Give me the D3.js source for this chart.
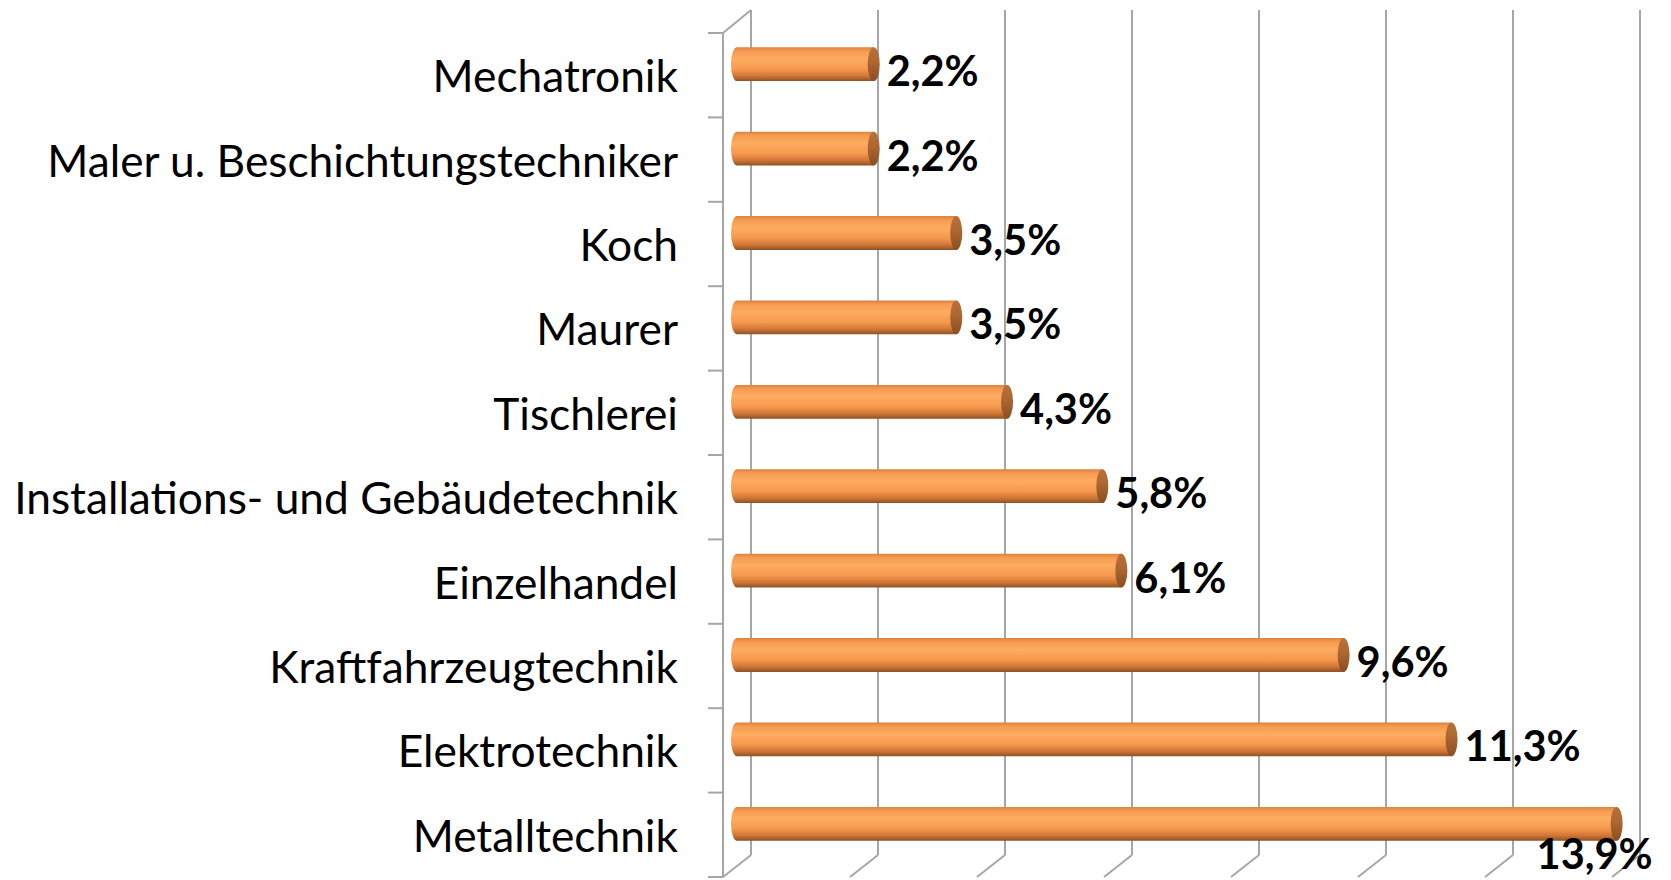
<!DOCTYPE html>
<html><head><meta charset="utf-8">
<script src="https://cdn.jsdelivr.net/npm/d3@7"></script>
<style>html,body{margin:0;padding:0;background:#fff;}svg{display:block;}</style>
</head><body>
<svg id="chart" width="1671" height="880"></svg>
<script>
const categories = ["Mechatronik","Maler u. Beschichtungstechniker","Koch","Maurer","Tischlerei","Installations- und Gebäudetechnik","Einzelhandel","Kraftfahrzeugtechnik","Elektrotechnik","Metalltechnik"];
const values = [2.2,2.2,3.5,3.5,4.3,5.8,6.1,9.6,11.3,13.9];
const valueLabels = ["2,2%","2,2%","3,5%","3,5%","4,3%","5,8%","6,1%","9,6%","11,3%","13,9%"];
const xTicks = [0,2,4,6,8,10,12,14];

(function(){
const W = 1671, H = 880;
const svg = d3.select("#chart");
const dx = 14, dy = 11; // half depth offset
const x = d3.scaleLinear().domain([0,14]).range([737,1626]);   // mid-depth
const yFront = d3.scaleBand().domain(categories).range([33,877]).padding(0);
const yBar = d3.scaleBand().domain(categories).range([33-dy,877-dy]).paddingInner(0.6).paddingOuter(0.3);

const defs = svg.append("defs");
const g1 = defs.append("linearGradient").attr("id","barGrad").attr("x1",0).attr("y1",0).attr("x2",0).attr("y2",1);
[[0,"#DC8240"],[0.12,"#F69C52"],[0.35,"#FDAC60"],[0.65,"#F5984D"],[0.85,"#CF7636"],[1,"#8F5124"]]
  .forEach(([o,c])=>g1.append("stop").attr("offset",o).attr("stop-color",c));
const g2 = defs.append("linearGradient").attr("id","capGrad").attr("x1",0).attr("y1",0).attr("x2",0).attr("y2",1);
[[0,"#B8703A"],[0.4,"#AE6832"],[1,"#8A4E22"]]
  .forEach(([o,c])=>g2.append("stop").attr("offset",o).attr("stop-color",c));

const grid = svg.append("g").attr("stroke","#A6A6A6").attr("stroke-width",2).attr("fill","none");
const yTop = 10, yBottom = 855;
xTicks.forEach(t=>{
  const xb = x(t)+dx;
  grid.append("line").attr("x1",xb).attr("x2",xb).attr("y1",yTop).attr("y2",yBottom);
  grid.append("line").attr("x1",xb).attr("y1",yBottom).attr("x2",xb-2*dx).attr("y2",yBottom+2*dy);
});
const xf = x(0)-dx;
grid.append("line").attr("x1",xf).attr("x2",xf).attr("y1",33).attr("y2",877);
grid.append("line").attr("x1",xf).attr("y1",33).attr("x2",x(0)+dx).attr("y2",yTop);
const bounds = categories.map(c=>yFront(c)).concat([877]);
bounds.forEach(b=>grid.append("line").attr("x1",xf-15).attr("x2",xf).attr("y1",b).attr("y2",b));

const bars = svg.append("g");
const bh = yBar.bandwidth();
categories.forEach((c,i)=>{
  const y0 = yBar(c), cy = y0+bh/2, x0 = x(0), x1 = x(values[i]);
  const rx = 6;
  bars.append("path")
    .attr("d",`M${x1-3},${y0} L${x0},${y0} A${rx},${bh/2} 0 0 0 ${x0},${y0+bh} L${x1-3},${y0+bh} Z`)
    .attr("fill","url(#barGrad)");
  bars.append("ellipse").attr("cx",x1-3).attr("cy",cy).attr("rx",rx).attr("ry",bh/2)
    .attr("fill","url(#capGrad)");
});

const lab = svg.append("g").attr("font-family","Lato, 'Open Sans', sans-serif").attr("fill","#000");
const probe = lab.append("text").attr("font-size",40).text(categories[5]);
const w40 = probe.node().getComputedTextLength(); probe.remove();
const fs = 40*664/w40;
categories.forEach(c=>{
  lab.append("text").attr("x",678).attr("y",yFront(c)+yFront.bandwidth()/2+17)
    .attr("text-anchor","end").attr("font-size",fs).text(c);
});

const vl = svg.append("g").attr("font-family","Lato, 'Open Sans', sans-serif").attr("font-weight","bold").attr("fill","#000");
const p2 = vl.append("text").attr("font-size",40).text("3,5%");
const wv = p2.node().getComputedTextLength(); p2.remove();
const fv = 40*92/wv;
categories.forEach((c,i)=>{
  const rc = yFront(c)+yFront.bandwidth()/2;
  const xe = x(values[i])+4;
  const t = vl.append("text").attr("font-size",fv).text(valueLabels[i]);
  const tw = t.node().getComputedTextLength();
  if (xe+6+tw > W-5) {
    t.attr("x",xe+29).attr("y",rc+34).attr("text-anchor","end");
  } else {
    t.attr("x",xe+6).attr("y",rc+11);
  }
});
})();
</script>
</body></html>
